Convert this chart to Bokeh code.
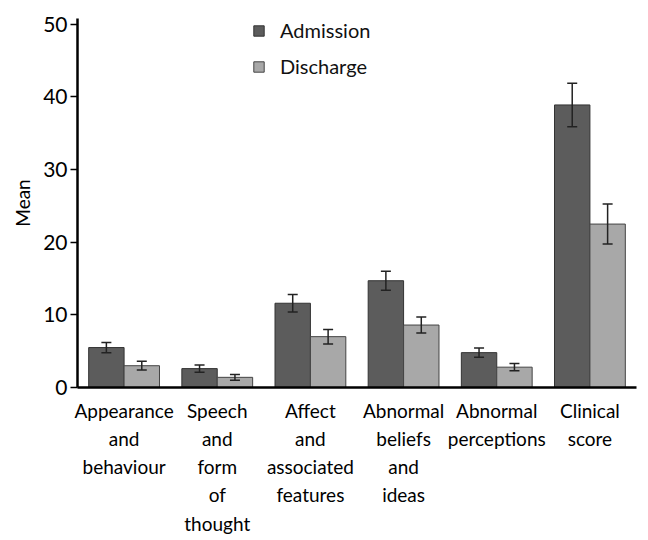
from bokeh.plotting import figure
from bokeh.models import ColumnDataSource, FactorRange, Whisker, TeeHead, Range1d, Legend, LegendItem
from bokeh.transform import dodge
from bokeh.embed import file_html
from bokeh.resources import INLINE

categories = ["Appearance\nand\nbehaviour", "Speech\nand\nform\nof\nthought",
              "Affect\nand\nassociated\nfeatures", "Abnormal\nbeliefs\nand\nideas",
              "Abnormal\nperceptions", "Clinical\nscore"]
admission = [5.5, 2.6, 11.6, 14.7, 4.8, 38.9]
admission_err = [0.7, 0.5, 1.2, 1.3, 0.65, 3.0]
discharge = [3.0, 1.4, 7.0, 8.6, 2.8, 22.5]
discharge_err = [0.6, 0.4, 1.0, 1.1, 0.5, 2.75]
y_ticks = [0, 10, 20, 30, 40, 50]

FONT = "Lato"
src = ColumnDataSource(dict(
    cat=categories,
    adm=admission, adm_lo=[v - e for v, e in zip(admission, admission_err)],
    adm_hi=[v + e for v, e in zip(admission, admission_err)],
    dis=discharge, dis_lo=[v - e for v, e in zip(discharge, discharge_err)],
    dis_hi=[v + e for v, e in zip(discharge, discharge_err)],
))

p = figure(x_range=FactorRange(*categories), y_range=Range1d(0, 50.8),
           width=648, height=540, output_backend="svg", toolbar_location=None,
           min_border_left=77, min_border_top=18, min_border_right=12, min_border_bottom=153)
p.outline_line_color = None
p.grid.visible = False

bw = 0.38
r1 = p.vbar(x=dodge("cat", -bw / 2, range=p.x_range), top="adm", width=bw, source=src,
            fill_color="#5c5c5c", line_color="#333333", line_width=1)
r2 = p.vbar(x=dodge("cat", bw / 2, range=p.x_range), top="dis", width=bw, source=src,
            fill_color="#a8a8a8", line_color="#444444", line_width=1)

for off, lo, hi in [(-bw / 2, "adm_lo", "adm_hi"), (bw / 2, "dis_lo", "dis_hi")]:
    w = Whisker(base=dodge("cat", off, range=p.x_range), lower=lo, upper=hi, source=src,
                level="overlay", line_color="#222222", line_width=1.5,
                upper_head=TeeHead(size=10, line_color="#222222", line_width=1.5),
                lower_head=TeeHead(size=10, line_color="#222222", line_width=1.5))
    p.add_layout(w)

legend = Legend(items=[LegendItem(label="Admission", renderers=[r1]),
                       LegendItem(label="Discharge", renderers=[r2])],
                location=(175, 309), padding=0, margin=0, spacing=12,
                glyph_width=13, glyph_height=13, label_standoff=15,
                label_text_font=FONT, label_text_font_size="20px",
                label_text_color="#111111",
                border_line_color=None, background_fill_alpha=0)
p.add_layout(legend)

p.yaxis.ticker = y_ticks
p.yaxis.axis_label = "Mean"
p.yaxis.axis_label_text_font = FONT
p.yaxis.axis_label_text_font_size = "19px"
p.yaxis.axis_label_text_font_style = "normal"
p.yaxis.axis_label_text_color = "black"
p.yaxis.axis_label_standoff = 6
p.yaxis.major_label_text_font = FONT
p.yaxis.major_label_text_font_size = "21px"
p.yaxis.major_tick_out = 7
p.yaxis.major_tick_in = 0
p.yaxis.minor_tick_line_color = None
p.yaxis.major_label_standoff = 3

for ax in (p.xaxis, p.yaxis):
    ax.axis_line_width = 2.5
    ax.axis_line_color = "black"
    ax.major_tick_line_width = 1.5

p.xaxis.major_tick_line_color = None
p.xaxis.major_tick_out = 0
p.xaxis.major_tick_in = 0
p.xaxis.major_label_text_font = FONT
p.xaxis.major_label_text_font_size = "19px"
p.xaxis.major_label_text_line_height = 1.23
p.xaxis.major_label_standoff = 11
p.xaxis.major_label_text_color = "black"
p.yaxis.major_label_text_color = "black"

open("out.html", "w").write(file_html(p, INLINE))
